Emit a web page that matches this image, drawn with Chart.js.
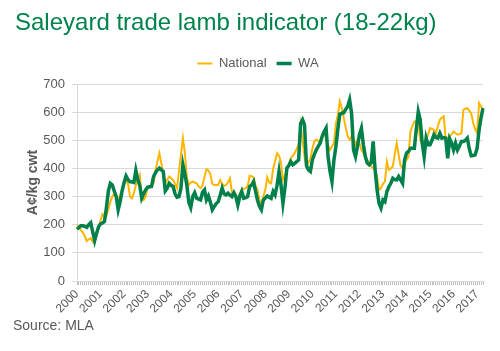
<!DOCTYPE html>
<html>
<head>
<meta charset="utf-8">
<script src="https://cdn.jsdelivr.net/npm/chart.js@4.4.1/dist/chart.umd.min.js"></script>
<style>
  html, body { margin: 0; padding: 0; background: #ffffff; }
  #wrap { position: relative; width: 500px; height: 351px; overflow: hidden; }
  #c { position: absolute; left: 0; top: 0; }
  #title { position: absolute; left: 15px; top: 10px; font: 24px 'Liberation Sans', Arial, sans-serif; line-height: 24px; color: #00834B; white-space: nowrap; }
  #source { position: absolute; left: 13px; top: 317px; font: 14px 'Liberation Sans', Arial, sans-serif; line-height: 16px; color: #595959; white-space: nowrap; }
</style>
</head>
<body>
<div id="wrap">
  <canvas id="c" width="500" height="351"></canvas>
  <div id="title">Saleyard trade lamb indicator (18-22kg)</div>
  <div id="source">Source: MLA</div>
</div>
<script>
// ---- Data (monthly, Jan 2000 – Apr 2017), A¢/kg cwt ----
const years = ['2000','2001','2002','2003','2004','2005','2006','2007','2008',
               '2009','2010','2011','2012','2013','2014','2015','2016','2017'];
const seriesNames = ['National', 'WA'];

const national = [
  199,192,181,172,158,142,148,152,140,150,164,187,
  215,238,229,232,255,282,300,312,295,282,305,324,
  350,353,347,300,294,312,340,360,377,295,288,300,
  335,338,340,347,390,425,454,419,380,347,360,371,
  365,359,345,330,390,450,508,454,370,341,350,353,
  350,347,336,330,340,370,397,393,380,345,341,341,
  341,359,345,338,341,350,365,315,305,300,294,310,
  324,328,330,336,374,372,369,340,324,290,264,300,
  324,369,350,347,400,425,454,445,420,360,375,395,
  415,436,445,454,470,484,555,500,442,407,420,436,
  470,496,502,498,490,510,531,500,480,466,478,490,
  560,590,638,615,579,545,515,502,514,505,484,502,
  490,466,455,442,430,419,407,400,395,371,324,330,
  345,353,424,395,400,407,450,490,448,410,401,419,
  430,442,531,550,567,567,567,502,485,472,502,520,
  543,540,537,525,550,573,580,585,502,508,514,522,
  531,525,520,522,525,608,612,614,605,596,561,540,
  525,632,620,610
];

const wa = [
  184,190,196,196,194,191,200,207,175,143,170,193,
  203,206,211,260,320,347,341,320,300,253,282,320,
  350,373,360,353,352,350,393,360,340,294,310,324,
  333,335,336,370,385,395,401,395,389,320,330,347,
  340,336,310,298,300,330,413,380,340,280,261,300,
  314,294,291,288,315,324,288,302,280,253,265,275,
  282,305,330,310,306,312,305,300,314,300,270,300,
  318,294,296,300,335,341,353,320,288,265,253,288,
  295,302,298,294,318,306,340,389,341,276,330,401,
  410,424,413,418,424,430,560,573,555,410,395,389,
  430,450,466,478,490,514,530,543,442,390,353,430,
  478,540,593,596,598,610,620,644,596,466,442,478,
  520,543,484,442,419,413,420,496,395,324,276,259,
  288,282,318,335,347,365,360,359,371,359,347,430,
  455,460,472,472,472,540,602,573,490,442,508,484,
  484,500,520,510,508,525,508,510,508,436,505,490,
  466,490,466,480,496,496,500,508,470,445,446,448,
  472,537,580,614
];

const monthCodes = ['01','02','03','04','05','06','07','08','09','10','11','12'];
const labels = years.flatMap(y => monthCodes.map(m => y + '-' + m)).slice(0, national.length);

const grey = '#595959';
const gridGrey = '#d9d9d9';
const FONT = "'Liberation Sans', Arial, sans-serif";

new Chart(document.getElementById('c'), {
  type: 'line',
  data: {
    labels: labels,
    datasets: [
      {
        label: seriesNames[0],
        data: national,
        borderColor: '#FFB500',
        backgroundColor: '#FFB500',
        borderWidth: 2,
        pointRadius: 0,
        tension: 0,
        order: 1
      },
      {
        label: seriesNames[1],
        data: wa,
        borderColor: '#00804A',
        backgroundColor: '#00804A',
        borderWidth: 3.5,
        pointRadius: 0,
        tension: 0,
        order: 0
      }
    ]
  },
  options: {
    responsive: false,
    animation: false,
    devicePixelRatio: 1,
    layout: { padding: { top: 47, left: 33, right: 17, bottom: 0 } },
    plugins: {
      tooltip: { enabled: false },
      legend: {
        display: true,
        position: 'top',
        labels: {
          boxWidth: 15,
          boxHeight: 0,
          padding: 10,
          color: grey,
          font: { family: FONT, size: 13 },
          sort: (a, b) => a.datasetIndex - b.datasetIndex
        }
      },
      subtitle: {
        display: true,
        text: '',
        position: 'top',
        weight: 500,
        padding: 0,
        font: { size: 4, lineHeight: 1 }
      }
    },
    scales: {
      x: {
        type: 'category',
        offset: false,
        grid: {
          display: true,
          drawOnChartArea: false,
          drawTicks: true,
          tickLength: 4,
          color: '#bfbfbf'
        },
        border: { display: true, color: gridGrey, width: 1 },
        ticks: {
          autoSkip: false,
          maxRotation: 45,
          minRotation: 45,
          padding: 2,
          color: grey,
          font: { family: FONT, size: 12 },
          callback: function(value, index) {
            return index % 12 === 0 ? years[index / 12] : '';
          }
        },
        afterFit: function(scale) { scale.height = 70; }
      },
      y: {
        min: 0,
        max: 700,
        grid: {
          color: gridGrey,
          drawTicks: true,
          tickLength: 5
        },
        border: { display: true, color: gridGrey, width: 1 },
        ticks: {
          stepSize: 100,
          padding: 7,
          color: grey,
          font: { family: FONT, size: 13 }
        },
        title: {
          display: true,
          text: 'A¢/kg cwt',
          color: grey,
          font: { family: FONT, size: 14, weight: 'bold' },
          padding: { top: -8.4, bottom: 0 }
        },
        afterFit: function(scale) { scale.width = 44; }
      }
    }
  }
});
</script>
</body>
</html>
